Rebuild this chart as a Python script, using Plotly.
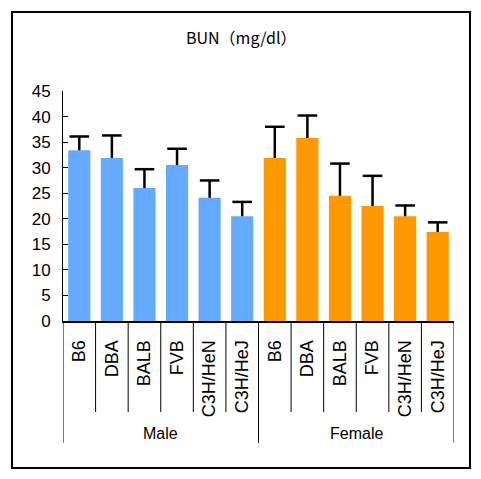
import plotly.graph_objects as go

groups = ["Male", "Female"]
strains = ["B6", "DBA", "BALB", "FVB", "C3H/HeN", "C3H/HeJ"]
male_values = [33.4, 31.9, 26.0, 30.5, 24.1, 20.5]
male_errors = [2.7, 4.4, 3.7, 3.2, 3.4, 2.8]
female_values = [31.9, 35.8, 24.5, 22.5, 20.5, 17.4]
female_errors = [6.1, 4.4, 6.3, 5.9, 2.1, 1.9]
y_ticks = [0, 5, 10, 15, 20, 25, 30, 35, 40, 45]
title_text = "BUN（mg/dl）"
group_colors = ["#66AAFF", "#FF9900"]

W, H = 481, 479
L, R, T, B = 63, 27, 91, 158
pw, ph = W - L - R, H - T - B

def px(x):
    return (x - L) / pw

def py(y):
    return (H - B - y) / ph

FONT = "Liberation Sans, Arial, sans-serif"
cats = [f"{g}|{s}" for g in groups for s in strains]
n = len(cats)
values = male_values + female_values
errors = male_errors + female_errors
colors = [group_colors[0]] * len(strains) + [group_colors[1]] * len(strains)
tops = [v + e for v, e in zip(values, errors)]

fig = go.Figure()
fig.add_trace(go.Bar(
    x=cats, y=values, marker_color=colors, marker_line_width=0,
    error_y=dict(type="data", array=errors, arrayminus=[0] * n,
                 symmetric=False, color="black", thickness=2.5, width=0),
    showlegend=False, hoverinfo="skip",
))
fig.add_trace(go.Scatter(
    x=cats, y=tops, mode="markers", showlegend=False, hoverinfo="skip",
    marker=dict(symbol="line-ew", size=14, color="black",
                line=dict(color="black", width=2.5)),
))

fig.update_layout(
    width=W, height=H, margin=dict(l=L, r=R, t=T, b=B, pad=0),
    paper_bgcolor="white", plot_bgcolor="white",
    bargap=0.32,
    font=dict(family=FONT, size=16, color="black"),
    xaxis=dict(type="category", categoryorder="array", categoryarray=cats,
               tickmode="array", tickvals=cats, ticktext=strains * 2,
               tickangle=-90, ticks="", showline=True, linecolor="black",
               linewidth=2, showgrid=False, zeroline=False,
               ticklabelstandoff=10, tickfont=dict(size=18),
               range=[-0.5, n - 0.5]),
    yaxis=dict(range=[0, 45], tickvals=y_ticks, ticks="inside", ticklen=5,
               tickwidth=1, tickcolor="black", showline=True, linecolor="black",
               linewidth=1, showgrid=False, zeroline=False,
               ticklabelstandoff=8, tickfont=dict(size=17)),
)

shapes = []
for i in range(n + 1):
    big = (i % len(strains) == 0)
    y_end = 443 if big else 412
    shapes.append(dict(type="line", xref="x", yref="paper",
                       x0=i - 0.5, x1=i - 0.5, y0=0, y1=py(y_end),
                       line=dict(color="black", width=1)))
shapes.append(dict(type="rect", xref="paper", yref="paper",
                   x0=px(12), x1=px(470), y0=py(468), y1=py(12),
                   line=dict(color="black", width=2)))
fig.update_layout(shapes=shapes)

ann = []
for gi, g in enumerate(groups):
    ann.append(dict(text=g, xref="x", yref="paper",
                    x=gi * len(strains) + (len(strains) - 1) / 2, y=py(433),
                    showarrow=False, xanchor="center", yanchor="middle",
                    font=dict(size=16)))
ann.append(dict(text=title_text, xref="paper", yref="paper", x=px(240.5),
                y=py(37), showarrow=False, xanchor="center", yanchor="middle",
                font=dict(size=16, family="Noto Sans CJK JP, " + FONT)))
fig.update_layout(annotations=ann)

fig.write_html("out.html", config={"displayModeBar": False},
               post_script="document.body.style.margin='0';document.body.style.overflow='hidden';")
